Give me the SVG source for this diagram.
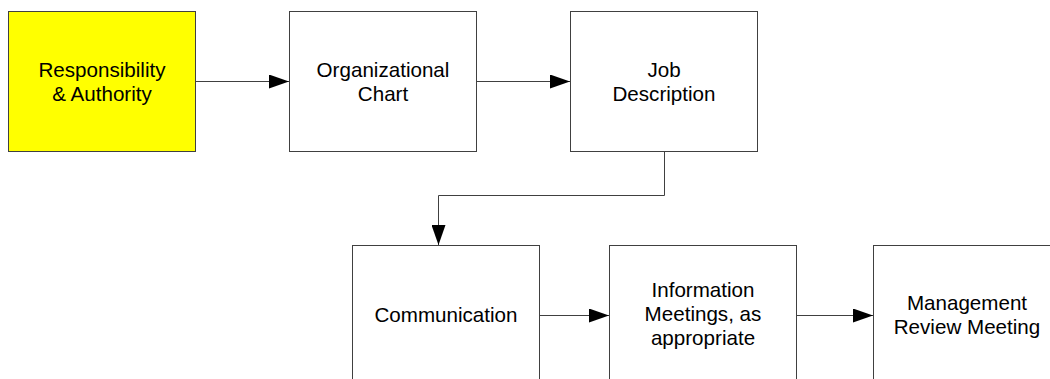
<svg xmlns="http://www.w3.org/2000/svg" width="1050" height="379" viewBox="0 0 1050 379">
<defs>
<style>
.box{fill:#ffffff;stroke:#404040;stroke-width:1}
.hl{fill:#ffff00}
.lbl{font-family:"Liberation Sans",Arial,sans-serif;font-size:20.6px;fill:#000;text-anchor:middle}
.conn{fill:none;stroke:#404040;stroke-width:1}
</style>
<marker id="ah" markerWidth="20" markerHeight="14" refX="20" refY="7" orient="auto" markerUnits="userSpaceOnUse">
<path d="M0,0 L20,7 L0,14 Z" fill="#000"/>
</marker>
</defs>
<rect width="1050" height="379" fill="#fff"/>
<g id="n1">
<rect class="box hl" x="8.5" y="11.5" width="187" height="140"/>
<text class="lbl" x="102" y="77">Responsibility</text>
<text class="lbl" x="102" y="101">&amp; Authority</text>
</g>
<g id="n2">
<rect class="box" x="289.5" y="11.5" width="187" height="140"/>
<text class="lbl" x="383" y="77">Organizational</text>
<text class="lbl" x="383" y="101">Chart</text>
</g>
<g id="n3">
<rect class="box" x="570.5" y="11.5" width="187" height="140"/>
<text class="lbl" x="664" y="77">Job</text>
<text class="lbl" x="664" y="101">Description</text>
</g>
<g id="n4">
<rect class="box" x="352.5" y="245.5" width="187" height="140"/>
<text class="lbl" x="446" y="322">Communication</text>
</g>
<g id="n5">
<rect class="box" x="609.5" y="245.5" width="187" height="140"/>
<text class="lbl" x="703" y="297">Information</text>
<text class="lbl" x="703" y="321">Meetings, as</text>
<text class="lbl" x="703" y="345">appropriate</text>
</g>
<g id="n6">
<rect class="box" x="873.5" y="245.5" width="187" height="140"/>
<text class="lbl" x="967" y="310">Management</text>
<text class="lbl" x="967" y="334">Review Meeting</text>
</g>
<g id="connectors">
<path class="conn" d="M195.5,81.5 H289" marker-end="url(#ah)"/>
<path class="conn" d="M476.5,81.5 H570" marker-end="url(#ah)"/>
<path class="conn" d="M664.5,151.5 V195.5 H438.5 V245" marker-end="url(#ah)"/>
<path class="conn" d="M539.5,315.5 H609" marker-end="url(#ah)"/>
<path class="conn" d="M796.5,315.5 H873" marker-end="url(#ah)"/>
</g>
</svg>
